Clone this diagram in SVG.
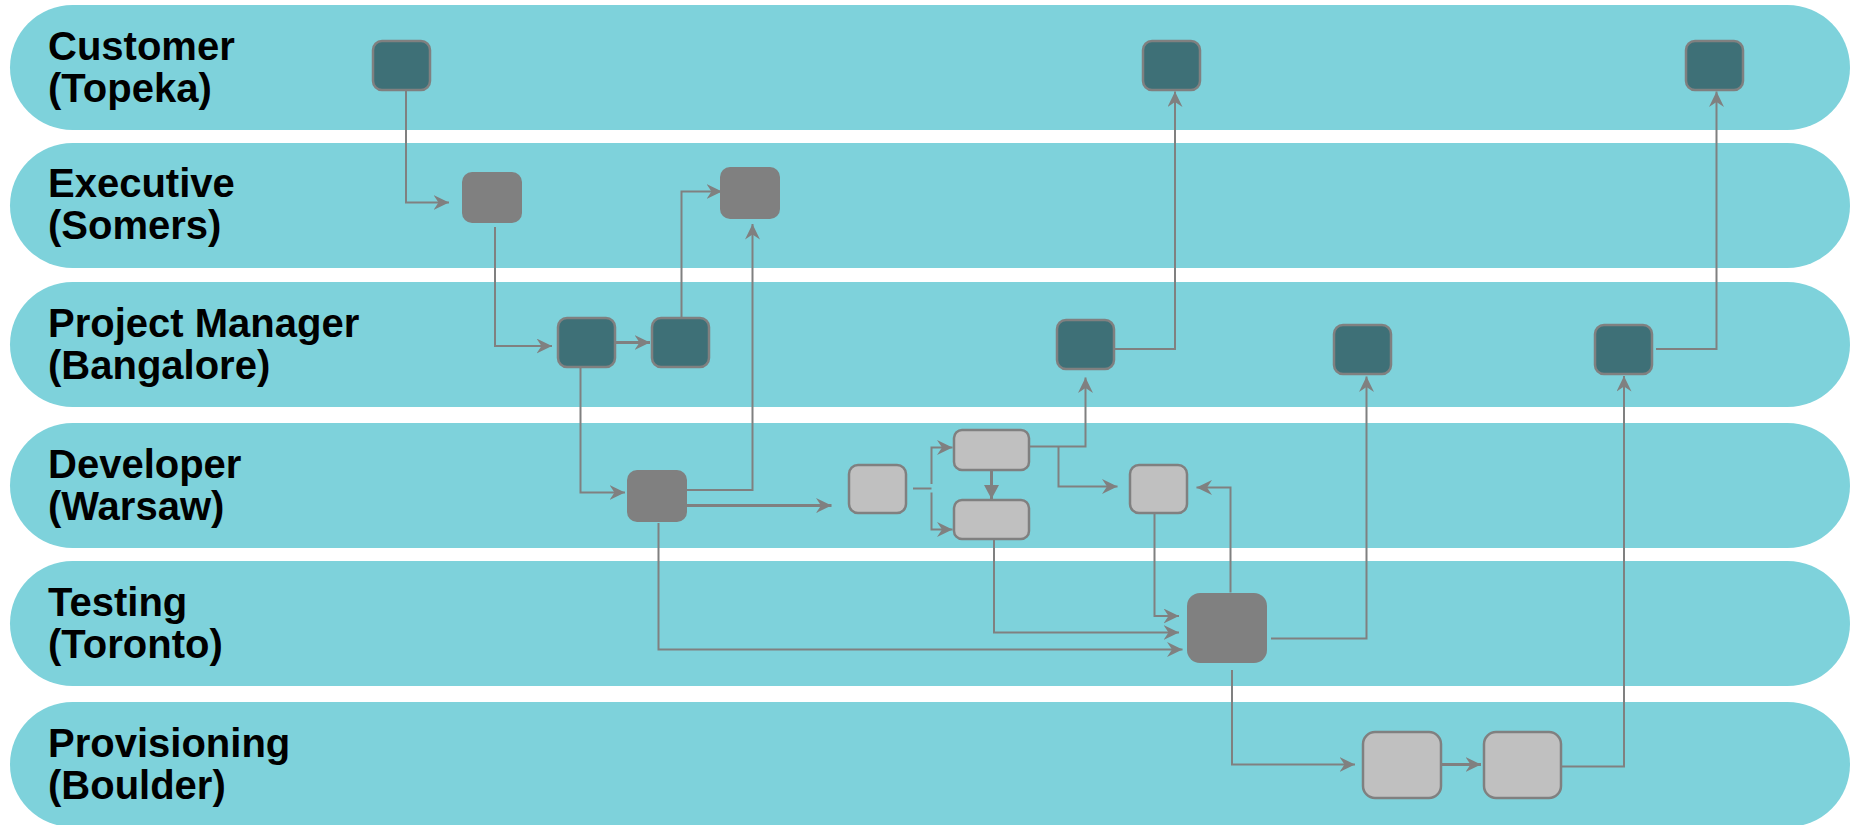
<svg xmlns="http://www.w3.org/2000/svg" width="1853" height="825" viewBox="0 0 1853 825">
  <style>
    .lane { fill: #7ed2db; }
    .label { font-family: "Liberation Sans", Arial, sans-serif; font-weight: bold; font-size: 40px; fill: #000; }
    .teal { fill: #3e7077; stroke: #808080; stroke-width: 2.5; }
    .gray { fill: #808080; }
    .light { fill: #c0c0c0; stroke: #808080; stroke-width: 2.5; }
    .conn { fill: none; stroke: #808080; stroke-width: 2; }
    .thick { stroke-width: 3; }
    .arr { marker-end: url(#vee); }
  </style>
  <defs>
    <marker id="vee" markerUnits="userSpaceOnUse" markerWidth="17" markerHeight="16" refX="15.5" refY="7.5" orient="auto">
      <path d="M0,0 L15.5,7.5 L0,15 L5,7.5 Z" fill="#808080"/>
    </marker>
    <marker id="tri" markerUnits="userSpaceOnUse" markerWidth="16" markerHeight="16" refX="14" refY="7.5" orient="auto">
      <path d="M0,0 L14,7.5 L0,15 Z" fill="#808080"/>
    </marker>
  </defs>

  <g id="lanes">
    <g id="lane-customer">
      <rect class="lane" x="10" y="5" width="1840" height="125" rx="62.5"/>
      <text class="label" x="48" y="60">Customer<tspan x="48" dy="41.5">(Topeka)</tspan></text>
    </g>
    <g id="lane-executive">
      <rect class="lane" x="10" y="143" width="1840" height="125" rx="62.5"/>
      <text class="label" x="48" y="197">Executive<tspan x="48" dy="41.5">(Somers)</tspan></text>
    </g>
    <g id="lane-pm">
      <rect class="lane" x="10" y="282" width="1840" height="125" rx="62.5"/>
      <text class="label" x="48" y="337">Project Manager<tspan x="48" dy="41.5">(Bangalore)</tspan></text>
    </g>
    <g id="lane-developer">
      <rect class="lane" x="10" y="423" width="1840" height="125" rx="62.5"/>
      <text class="label" x="48" y="478">Developer<tspan x="48" dy="41.5">(Warsaw)</tspan></text>
    </g>
    <g id="lane-testing">
      <rect class="lane" x="10" y="561" width="1840" height="125" rx="62.5"/>
      <text class="label" x="48" y="616">Testing<tspan x="48" dy="41.5">(Toronto)</tspan></text>
    </g>
    <g id="lane-provisioning">
      <rect class="lane" x="10" y="702" width="1840" height="125" rx="62.5"/>
      <text class="label" x="48" y="757">Provisioning<tspan x="48" dy="41.5">(Boulder)</tspan></text>
    </g>
  </g>

  <g id="connectors">
    <path class="conn arr" d="M406,91 V202.5 H449"/>
    <path class="conn arr" d="M495,227 V346 H552"/>
    <path class="conn thick arr" d="M616,342.5 H650"/>
    <path class="conn arr" d="M681.5,317 V191.5 H722"/>
    <path class="conn arr" d="M580.5,368 V492.5 H625"/>
    <path class="conn arr" d="M686.5,490 H752.5 V224"/>
    <path class="conn thick arr" d="M686.5,505.5 H831.5"/>
    <path class="conn arr" d="M658.5,523 V649.5 H1182.5"/>
    <path class="conn" d="M913,488.5 H931.5"/>
    <path class="conn arr" d="M931.5,484 V447.5 H952.5"/>
    <path class="conn arr" d="M931.5,492.5 V529.5 H952.5"/>
    <path class="conn thick" marker-end="url(#tri)" d="M991.5,471 V499"/>
    <path class="conn arr" d="M1030,446.5 H1085.5 V377.5"/>
    <path class="conn arr" d="M1058.5,446.5 V486.5 H1117.5"/>
    <path class="conn arr" d="M1115,349 H1175 V91.5"/>
    <path class="conn arr" d="M994,540 V632.5 H1179"/>
    <path class="conn arr" d="M1154.5,514 V616 H1179"/>
    <path class="conn arr" d="M1230.5,592.5 V487.5 H1196.5"/>
    <path class="conn arr" d="M1271,638.5 H1366.5 V376.5"/>
    <path class="conn arr" d="M1232,670 V764.5 H1355"/>
    <path class="conn thick arr" d="M1442,764.5 H1481"/>
    <path class="conn arr" d="M1562,766.5 H1624 V376"/>
    <path class="conn arr" d="M1656,349 H1716.5 V91.5"/>
  </g>

  <g id="nodes">
    <g id="cust1"><rect class="teal" x="373" y="41" width="57" height="49" rx="9"/></g>
    <g id="cust2"><rect class="teal" x="1143" y="41" width="57" height="49" rx="9"/></g>
    <g id="cust3"><rect class="teal" x="1686" y="41" width="57" height="49" rx="9"/></g>
    <g id="exec1"><rect class="gray" x="462" y="172" width="60" height="51" rx="10"/></g>
    <g id="exec2"><rect class="gray" x="720" y="167" width="60" height="52" rx="10"/></g>
    <g id="pm1"><rect class="teal" x="558" y="318" width="57" height="49" rx="9"/></g>
    <g id="pm2"><rect class="teal" x="652" y="318" width="57" height="49" rx="9"/></g>
    <g id="pm3"><rect class="teal" x="1057" y="320" width="57" height="49" rx="9"/></g>
    <g id="pm4"><rect class="teal" x="1334" y="325" width="57" height="49" rx="9"/></g>
    <g id="pm5"><rect class="teal" x="1595" y="325" width="57" height="49" rx="9"/></g>
    <g id="dev1"><rect class="gray" x="627" y="470" width="60" height="52" rx="10"/></g>
    <g id="devA"><rect class="light" x="849" y="465" width="57" height="48" rx="9"/></g>
    <g id="devB"><rect class="light" x="954" y="430" width="75" height="40" rx="8"/></g>
    <g id="devC"><rect class="light" x="954" y="500" width="75" height="39" rx="8"/></g>
    <g id="devD"><rect class="light" x="1130" y="465" width="57" height="48" rx="9"/></g>
    <g id="test1"><rect class="gray" x="1187" y="593" width="80" height="70" rx="13"/></g>
    <g id="prov1"><rect class="light" x="1363" y="732" width="78" height="66" rx="12"/></g>
    <g id="prov2"><rect class="light" x="1484" y="732" width="77" height="66" rx="12"/></g>
  </g>
</svg>
